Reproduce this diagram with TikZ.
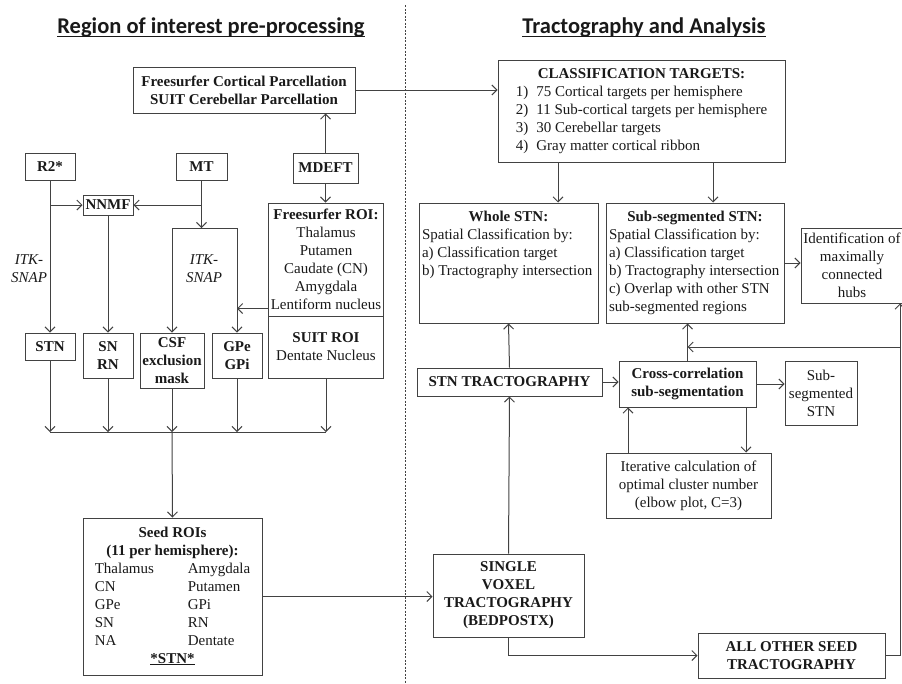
\documentclass[tikz,border=0pt]{standalone}
\usepackage{fontspec}
\setmainfont{Liberation Serif}
\newfontfamily\headfont{Carlito}
\usepackage{tikz}
\usetikzlibrary{arrows.meta}
\definecolor{flowGray}{RGB}{66,66,66}
\definecolor{flowText}{RGB}{25,25,25}
\newcommand{\boxfont}{\fontsize{15}{18}\selectfont}
\newcommand{\headline}[1]{\setbox0\hbox{#1}\rlap{\rule[-3.5pt]{\wd0}{1.4pt}}\box0}

\begin{document}
\begin{tikzpicture}[x=1pt, y=-1pt, line width=1pt, flowGray,
  >={Straight Barb[length=5pt,width=10pt]},
  every node/.style={font=\boxfont, text=flowText},
  box/.style={draw=flowGray, align=center, inner xsep=1pt, inner ysep=2pt},
  bbox/.style={box, font=\boxfont\bfseries},
  head/.style={font=\headfont\bfseries\fontsize{22.5}{26}\selectfont},
  tool/.style={font=\boxfont\itshape, align=center}]
  \useasboundingbox (0,0) rectangle (902,683);
  \node[head] (hLeft) at (211,28) {\headline{Region of interest pre-processing}};
  \node[head] (hRight) at (644,28) {\headline{Tractography and Analysis}};
  \draw[line width=1pt, dash pattern=on 2pt off 1.5pt] (405,5) -- (405,683);

  % region of interest pre-processing
  \node[bbox, minimum width=222, minimum height=46] (parc) at (244,90) {Freesurfer Cortical Parcellation\\SUIT Cerebellar Parcellation};
  \node[bbox, minimum width=50, minimum height=27] (r2) at (50,166.5) {R2*};
  \node[bbox, minimum width=51, minimum height=27] (mt) at (201.5,166.5) {MT};
  \node[bbox, minimum width=65, minimum height=30] (mdeft) at (325.5,168) {MDEFT};
  \node[bbox, minimum width=50, minimum height=20, inner ysep=0pt, inner xsep=0pt] (nnmf) at (108,205) {NNMF};
  \node[box, minimum width=115, minimum height=113, inner xsep=0pt] (frROI) at (326,259.5) {\textbf{Freesurfer ROI:}\\Thalamus\\Putamen\\Caudate (CN)\\Amygdala\\Lentiform nucleus};
  \node[box, minimum width=115, minimum height=62, inner xsep=0pt] (suitROI) at (326,347) {\textbf{SUIT ROI}\\Dentate Nucleus};
  \node[tool] (itkL) at (29,269) {ITK-\\SNAP};
  \node[tool] (itkM) at (204,269) {ITK-\\SNAP};
  \node[bbox, minimum width=50, minimum height=27] (stn) at (50,346.5) {STN};
  \node[bbox, minimum width=50, minimum height=45] (snrn) at (108,355.5) {SN\\RN};
  \node[bbox, minimum width=64, minimum height=55] (csf) at (172,360.5) {CSF\\exclusion\\mask};
  \node[bbox, minimum width=50, minimum height=45] (gpe) at (237,355.5) {GPe\\GPi};
  \node[box, minimum width=179, minimum height=157] (seeds) at (172.5,596.5) {\begin{tabular}{@{}p{93pt}@{}l@{}}
    \multicolumn{2}{@{}c@{}}{\textbf{Seed ROIs}}\\
    \multicolumn{2}{@{}c@{}}{\textbf{(11 per hemisphere):}}\\
    Thalamus & Amygdala\\ CN & Putamen\\ GPe & GPi\\ SN & RN\\ NA & Dentate\\
    \multicolumn{2}{@{}c@{}}{\underline{\textbf{*STN*}}}
  \end{tabular}};

  \draw[->] (mdeft.north) -- (mdeft.north |- parc.south);
  \draw[->] (mdeft.south) -- (mdeft.south |- frROI.north);
  \draw[->] (r2.south) -- (stn.north);
  \draw[->] (r2.south |- nnmf.west) -- (nnmf.west);
  \coordinate (mtSplit) at (mt.south |- 0,228);
  \draw[->] (mt.south) -- (mtSplit);
  \draw[->] (mt.south |- nnmf.east) -- (nnmf.east);
  \draw (csf.north |- mtSplit) -- (gpe.north |- mtSplit);
  \draw[->] (csf.north |- mtSplit) -- (csf.north);
  \draw[->] (gpe.north |- mtSplit) -- (gpe.north);
  \draw[->] (nnmf.south) -- (snrn.north);
  \draw[->] ([yshift=8pt]frROI.south west) -- ([yshift=8pt]frROI.south west -| gpe.north);
  \coordinate (merge) at (csf.south |- 0,432);
  \foreach \n in {stn,snrn,csf,gpe,suitROI}
    \draw[->] (\n.south) -- (\n.south |- merge);
  \draw (stn.south |- merge) -- (suitROI.south |- merge);
  \draw[->] (merge) -- (seeds.north);

  % tractography and analysis
  \node[box, minimum width=287, minimum height=102] (classT) at (641.5,111) {\begin{tabular}{@{}l@{\hspace{8pt}}l@{}}
    \multicolumn{2}{c}{\textbf{CLASSIFICATION TARGETS:}}\\
    1) & 75 Cortical targets per hemisphere\\
    2) & 11 Sub-cortical targets per hemisphere\\
    3) & 30 Cerebellar targets\\
    4) & Gray matter cortical ribbon
  \end{tabular}};
  \node[box, inner xsep=3pt, inner ysep=6pt, minimum width=179, minimum height=120] (whole) at (508.5,263) {\begin{minipage}[c][108pt][t]{173pt}\centering\strut\textbf{Whole STN:}\par\raggedright
    Spatial Classification by:\\a) Classification target\\b) Tractography intersection\end{minipage}};
  \node[box, inner xsep=3pt, inner ysep=6pt, minimum width=178, minimum height=120] (subseg) at (695,263) {\begin{minipage}[c][108pt][t]{172pt}\centering\strut\textbf{Sub-segmented STN:}\par\raggedright
    Spatial Classification by:\\a) Classification target\\b) Tractography intersection\\c) Overlap with other STN\\sub-segmented regions\end{minipage}};
  \node[box, minimum width=102, minimum height=75] (hubs) at (852,265.5) {Identification of\\maximally\\connected\\hubs};
  \node[bbox, minimum width=185, minimum height=28] (stnTract) at (509.5,382) {STN TRACTOGRAPHY};
  \node[bbox, minimum width=137, minimum height=46] (xcorr) at (687.5,384) {Cross-correlation\\sub-segmentation};
  \node[box, minimum width=72, minimum height=64] (subSTN) at (821,393) {Sub-\\segmented\\STN};
  \node[box, minimum width=165, minimum height=65] (iter) at (688.5,485.5) {Iterative calculation of\\optimal cluster number\\(elbow plot, C=3)};
  \node[bbox, minimum width=151, minimum height=83] (single) at (508.5,595.5) {SINGLE\\VOXEL\\TRACTOGRAPHY\\(BEDPOSTX)};
  \node[bbox, minimum width=187, minimum height=45] (allOther) at (791.5,655.5) {ALL OTHER SEED\\TRACTOGRAPHY};

  \draw[->] (parc.east) -- (parc.east -| classT.west);
  \draw[->] (seeds.east) -- (seeds.east -| single.west);
  \draw[->] (single.north) -- (stnTract.south);
  \draw[->] (stnTract.north) -- (whole.south);
  \draw[->] ([xshift=-83.5pt]classT.south) -- ([xshift=-83.5pt]classT.south |- whole.north);
  \draw[->] ([xshift=71.5pt]classT.south) -- ([xshift=71.5pt]classT.south |- subseg.north);
  \draw[->] (subseg.east) -- (subseg.east -| hubs.west);
  \draw[->] (stnTract.east) -- (stnTract.east -| xcorr.west);
  \draw[->] (xcorr.east) -- (xcorr.east -| subSTN.west);
  \draw[->] (xcorr.north) -- (xcorr.north |- subseg.south);
  \draw[->] ([xshift=58.5pt]xcorr.south) -- ([xshift=58.5pt]xcorr.south |- iter.north);
  \draw[->] ([xshift=-60.5pt]iter.north) -- ([xshift=-60.5pt]iter.north |- xcorr.south);
  \draw[->] (single.south) |- (allOther.west);
  \coordinate (hubIn) at ([xshift=48pt]hubs.south);
  \draw[->] (allOther.east) -| (hubIn);
  \coordinate (fb) at (hubIn |- 0,347);
  \draw[->] (fb) -- (fb -| xcorr.north);
\end{tikzpicture}
\end{document}
